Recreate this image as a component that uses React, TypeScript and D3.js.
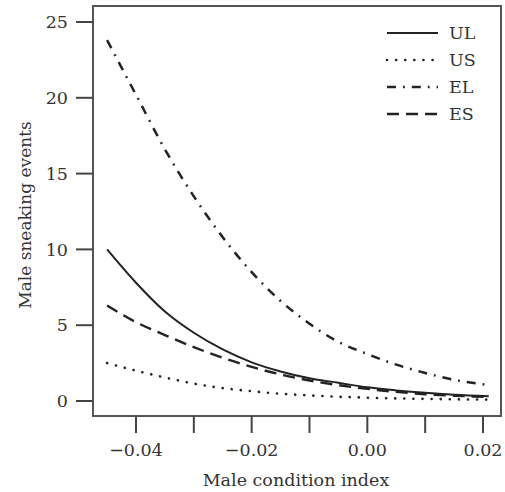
import React from "react";
import * as d3 from "d3";

const xValues = [-0.045, -0.04, -0.035, -0.03, -0.025, -0.02, -0.015, -0.01, -0.005, 0, 0.005, 0.01, 0.015, 0.021];
const UL = [10.0, 7.8, 5.9, 4.5, 3.4, 2.55, 1.95, 1.5, 1.2, 0.9, 0.7, 0.54, 0.42, 0.32];
const US = [2.5, 2.0, 1.55, 1.15, 0.85, 0.65, 0.48, 0.37, 0.28, 0.22, 0.17, 0.14, 0.11, 0.09];
const EL = [23.8, 20.2, 16.6, 13.5, 10.8, 8.5, 6.6, 5.1, 3.9, 3.1, 2.4, 1.85, 1.4, 1.05];
const ES = [6.3, 5.2, 4.35, 3.55, 2.85, 2.25, 1.75, 1.35, 1.05, 0.8, 0.6, 0.45, 0.35, 0.26];
const seriesNames = ["UL", "US", "EL", "ES"];
const xTickLabels = [-0.04, -0.02, 0.0, 0.02];
const xMinorTicks = [-0.03, -0.01, 0.01];
const yTicks = [0, 5, 10, 15, 20, 25];

const FONT = "'DejaVu Serif', 'Liberation Serif', serif";
const INK = "#333";

export default function App() {
  const W = 505, H = 492;
  const box = { left: 93, top: 6, right: 501, bottom: 416 };
  const x = d3.scaleLinear().domain([-0.04, 0.02]).range([136, 483]);
  const y = d3.scaleLinear().domain([0, 25]).range([401, 22]);
  const line = d3
    .line<[number, number]>()
    .x((d) => x(d[0]))
    .y((d) => y(d[1]))
    .curve(d3.curveMonotoneX);

  const data: Record<string, number[]> = { UL, US, EL, ES };
  const styles: Record<string, { dash?: string; width: number; cap: string }> = {
    UL: { width: 2, cap: "butt" },
    US: { dash: "0.1,9", width: 2.6, cap: "round" },
    EL: { dash: "9,7,1.8,7", width: 2.5, cap: "butt" },
    ES: { dash: "12,7", width: 2.4, cap: "butt" },
  };
  const fmt = (v: number) => (v === 0 ? "0.00" : d3.format(".2f")(v).replace("-", "\u2212"));
  const fs = 17.5;

  return (
    <svg width={W} height={H} style={{ position: "absolute", left: 0, top: 0, background: "#fff" }}>
      <rect x={box.left} y={box.top} width={box.right - box.left} height={box.bottom - box.top} fill="none" stroke="#555" strokeWidth={2} />
      {yTicks.map((t) => (
        <g key={"y" + t}>
          <line x1={76} x2={box.left} y1={y(t)} y2={y(t)} stroke="#444" strokeWidth={2} />
          <text x={68} y={y(t)} dy="0.35em" textAnchor="end" fontFamily={FONT} fontSize={fs} fill={INK}>
            {t}
          </text>
        </g>
      ))}
      {xTickLabels.map((t) => (
        <g key={"x" + t}>
          <line x1={x(t)} x2={x(t)} y1={box.bottom} y2={433} stroke="#444" strokeWidth={2} />
          <text x={x(t)} y={450} dy="0.35em" textAnchor="middle" fontFamily={FONT} fontSize={fs} fill={INK}>
            {fmt(t)}
          </text>
        </g>
      ))}
      {xMinorTicks.map((t) => (
        <line key={"m" + t} x1={x(t)} x2={x(t)} y1={box.bottom} y2={433} stroke="#444" strokeWidth={2} />
      ))}
      <text x={296} y={480} dy="0.35em" textAnchor="middle" fontFamily={FONT} fontSize={fs} fill={INK}>
        Male condition index
      </text>
      <text transform={`translate(25,${(box.top + box.bottom) / 2 + 4}) rotate(-90)`} dy="0.35em" textAnchor="middle" fontFamily={FONT} fontSize={fs - 0.5} fill={INK}>
        Male sneaking events
      </text>
      {seriesNames.map((name) => {
        const pts = xValues.map((xv, i) => [xv, data[name][i]] as [number, number]);
        const s = styles[name];
        return (
          <path
            key={name}
            d={line(pts) || ""}
            fill="none"
            stroke="#222"
            strokeWidth={s.width}
            strokeDasharray={s.dash}
            strokeLinecap={s.cap as any}
          />
        );
      })}
      {seriesNames.map((name, i) => {
        const s = styles[name];
        const ly = 33 + i * 27;
        return (
          <g key={"lg" + name}>
            <line x1={387} x2={438} y1={ly} y2={ly} stroke="#222" strokeWidth={s.width} strokeDasharray={s.dash} strokeLinecap={s.cap as any} />
            <text x={449} y={ly} dy="0.35em" fontFamily={FONT} fontSize={fs} fill={INK}>
              {name}
            </text>
          </g>
        );
      })}
    </svg>
  );
}
